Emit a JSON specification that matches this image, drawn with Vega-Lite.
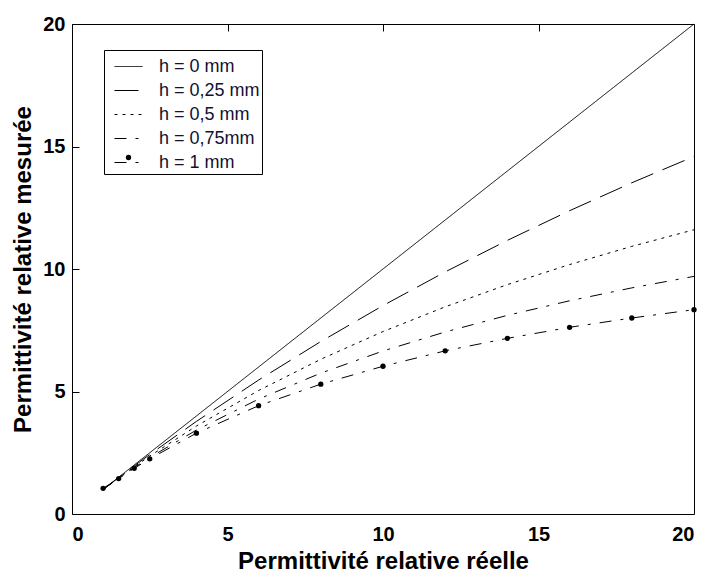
{
  "$schema": "https://vega.github.io/schema/vega-lite/v6.json",
  "width": 622,
  "height": 490,
  "autosize": {"type": "none"},
  "padding": {"left": 72, "top": 24, "right": 13, "bottom": 58},
  "background": "white",
  "config": {
    "view": {"stroke": "black", "strokeWidth": 1, "fill": "transparent"},
    "axis": {
      "domain": false,
      "ticks": false,
      "grid": true,
      "zindex": 2,
      "gridColor": "#000000",
      "gridOpacity": 1,
      "gridWidth": 1,
      "gridDash": [7, 700],
      "labelFont": "Liberation Sans",
      "labelFontWeight": "bold",
      "labelFontSize": 20,
      "labelColor": "black",
      "titleFont": "Liberation Sans",
      "titleFontWeight": "bold",
      "titleFontSize": 24,
      "titleColor": "black"
    }
  },
  "data": {
    "values": [
      {"x": 1, "y": 1, "h": "h = 0 mm"},
      {"x": 20, "y": 20, "h": "h = 0 mm"},
      {"x": 1, "y": 1, "h": "h = 0,25 mm"},
      {"x": 1.5, "y": 1.486, "h": "h = 0,25 mm"},
      {"x": 2, "y": 1.962, "h": "h = 0,25 mm"},
      {"x": 2.5, "y": 2.429, "h": "h = 0,25 mm"},
      {"x": 4, "y": 3.779, "h": "h = 0,25 mm"},
      {"x": 6, "y": 5.467, "h": "h = 0,25 mm"},
      {"x": 8, "y": 7.039, "h": "h = 0,25 mm"},
      {"x": 10, "y": 8.507, "h": "h = 0,25 mm"},
      {"x": 12, "y": 9.881, "h": "h = 0,25 mm"},
      {"x": 14, "y": 11.169, "h": "h = 0,25 mm"},
      {"x": 16, "y": 12.379, "h": "h = 0,25 mm"},
      {"x": 18, "y": 13.519, "h": "h = 0,25 mm"},
      {"x": 20, "y": 14.593, "h": "h = 0,25 mm"},
      {"x": 1, "y": 1, "h": "h = 0,5 mm"},
      {"x": 1.5, "y": 1.472, "h": "h = 0,5 mm"},
      {"x": 2, "y": 1.927, "h": "h = 0,5 mm"},
      {"x": 2.5, "y": 2.365, "h": "h = 0,5 mm"},
      {"x": 4, "y": 3.59, "h": "h = 0,5 mm"},
      {"x": 6, "y": 5.04, "h": "h = 0,5 mm"},
      {"x": 8, "y": 6.316, "h": "h = 0,5 mm"},
      {"x": 10, "y": 7.447, "h": "h = 0,5 mm"},
      {"x": 12, "y": 8.456, "h": "h = 0,5 mm"},
      {"x": 14, "y": 9.363, "h": "h = 0,5 mm"},
      {"x": 16, "y": 10.181, "h": "h = 0,5 mm"},
      {"x": 18, "y": 10.924, "h": "h = 0,5 mm"},
      {"x": 20, "y": 11.602, "h": "h = 0,5 mm"},
      {"x": 1, "y": 1, "h": "h = 0,75mm"},
      {"x": 1.5, "y": 1.459, "h": "h = 0,75mm"},
      {"x": 2, "y": 1.894, "h": "h = 0,75mm"},
      {"x": 2.5, "y": 2.307, "h": "h = 0,75mm"},
      {"x": 4, "y": 3.426, "h": "h = 0,75mm"},
      {"x": 6, "y": 4.689, "h": "h = 0,75mm"},
      {"x": 8, "y": 5.75, "h": "h = 0,75mm"},
      {"x": 10, "y": 6.653, "h": "h = 0,75mm"},
      {"x": 12, "y": 7.431, "h": "h = 0,75mm"},
      {"x": 14, "y": 8.108, "h": "h = 0,75mm"},
      {"x": 16, "y": 8.703, "h": "h = 0,75mm"},
      {"x": 18, "y": 9.229, "h": "h = 0,75mm"},
      {"x": 20, "y": 9.699, "h": "h = 0,75mm"},
      {"x": 1, "y": 1.05, "h": "h = 1 mm"},
      {"x": 1.5, "y": 1.447, "h": "h = 1 mm"},
      {"x": 2, "y": 1.863, "h": "h = 1 mm"},
      {"x": 2.5, "y": 2.252, "h": "h = 1 mm"},
      {"x": 4, "y": 3.3, "h": "h = 1 mm"},
      {"x": 6, "y": 4.42, "h": "h = 1 mm"},
      {"x": 8, "y": 5.3, "h": "h = 1 mm"},
      {"x": 10, "y": 6.03, "h": "h = 1 mm"},
      {"x": 12, "y": 6.66, "h": "h = 1 mm"},
      {"x": 14, "y": 7.17, "h": "h = 1 mm"},
      {"x": 16, "y": 7.62, "h": "h = 1 mm"},
      {"x": 18, "y": 8.0, "h": "h = 1 mm"},
      {"x": 20, "y": 8.34, "h": "h = 1 mm"}
    ]
  },
  "layer": [
    {
      "mark": {"type": "line", "color": "black", "strokeWidth": 1},
      "encoding": {
        "x": {
          "field": "x", "type": "quantitative",
          "scale": {"domain": [0, 20], "nice": false},
          "axis": {"orient": "bottom", "tickCount": 4, "title": "Permittivité relative réelle", "labelPadding": 10, "titlePadding": 5}
        },
        "y": {
          "field": "y", "type": "quantitative",
          "scale": {"domain": [0, 20], "nice": false},
          "axis": {"orient": "left", "tickCount": 4, "title": "Permittivité relative mesurée", "labelPadding": 7, "titlePadding": 7}
        },
        "strokeDash": {
          "field": "h", "type": "nominal",
          "scale": {
            "domain": ["h = 0 mm", "h = 0,25 mm", "h = 0,5 mm", "h = 0,75mm", "h = 1 mm"],
            "range": [[1, 0], [24, 10], [3, 5], [12, 9, 3, 9], [12, 9, 3, 9]]
          },
          "legend": {
            "orient": "none",
            "legendX": 32,
            "legendY": 26,
            "title": null,
            "fillColor": "white",
            "strokeColor": "black",
            "padding": 2,
            "symbolOffset": 8,
            "symbolType": "stroke",
            "symbolSize": 784,
            "symbolStrokeColor": "black",
            "symbolStrokeWidth": 1,
            "labelFont": "Liberation Sans",
            "labelFontSize": 18,
            "labelColor": "#111133",
            "labelOffset": 16,
            "rowPadding": -5
          }
        }
      }
    },
    {
      "transform": [{"filter": "datum.h === 'h = 1 mm'"}],
      "mark": {"type": "point", "filled": true, "color": "black", "size": 28, "opacity": 1},
      "encoding": {
        "x": {
          "field": "x", "type": "quantitative",
          "axis": {"orient": "top", "tickCount": 4, "labels": false, "title": null}
        },
        "y": {
          "field": "y", "type": "quantitative",
          "axis": {"orient": "right", "tickCount": 4, "labels": false, "title": null}
        },
        "shape": {
          "field": "h", "type": "nominal",
          "scale": {"domain": ["h = 1 mm"], "range": ["circle"]},
          "legend": {
            "orient": "none",
            "legendX": 53,
            "legendY": 130,
            "title": null,
            "padding": 0,
            "symbolSize": 28,
            "symbolFillColor": "black",
            "symbolStrokeColor": "black",
            "labelFontSize": 1,
            "labelColor": "transparent",
            "labelOffset": 0
          }
        }
      }
    }
  ],
  "resolve": {"axis": {"x": "independent", "y": "independent"}, "legend": {"shape": "independent", "strokeDash": "independent"}}
}
